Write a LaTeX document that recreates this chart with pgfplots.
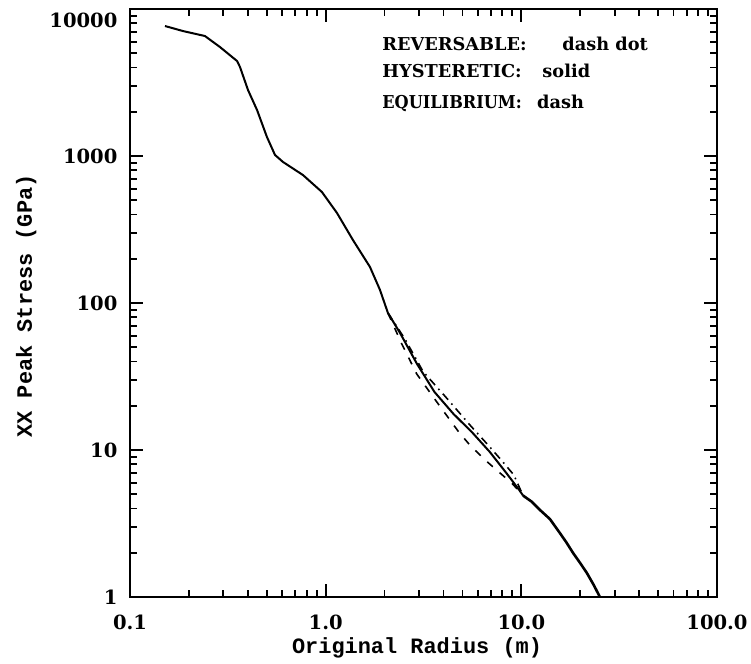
\documentclass[border=0pt]{standalone}
\usepackage{fontspec}
\usepackage{graphicx}
\setmainfont{DejaVu Serif}
\newfontfamily\labelfont{Liberation Mono}
\usepackage{pgfplots}
\pgfplotsset{compat=1.18}
\begin{document}
\begin{tikzpicture}
\path[use as bounding box] (-65bp,-33.5bp) rectangle (310.5bp,298.5bp);
\begin{axis}[
  at={(0,0)}, anchor=south west,
  scale only axis, width=293.5bp, height=294bp,
  xmode=log, ymode=log,
  xmin=0.1, xmax=100, ymin=1, ymax=10000,
  axis line style={line width=1.2bp},
  tick style={black, line width=0.9bp},
  major tick length=6.5bp, minor tick length=3.5bp,
  tick align=inside, xtick pos=both, ytick pos=both,
  xticklabel pos=bottom, yticklabel pos=left,
  xtick={0.1,1,10,100}, xticklabels={0.1,1.0,10.0,100.0},
  minor xtick={0.2,0.3,0.4,0.5,0.6,0.7,0.8,0.9,2,3,4,5,6,7,8,9,20,30,40,50,60,70,80,90},
  ytick={1,10,100,1000,10000},
  yticklabels={1,10,100,1000,\raisebox{-5.5bp}[\height][\depth]{10000}},
  minor ytick={2,3,4,5,6,7,8,9,20,30,40,50,60,70,80,90,200,300,400,500,600,700,800,900,2000,3000,4000,5000,6000,7000,8000,9000},
  ticklabel style={font=\fontsize{9.8}{11}\selectfont\bfseries},
  xticklabel style={yshift=-5.3bp},
  yticklabel style={xshift=-2.8bp},
  xlabel={Original Radius (m)}, ylabel={XX Peak Stress (GPa)},
  label style={font=\labelfont\bfseries\fontsize{11}{12}\selectfont},
  xlabel style={at={(axis description cs:0.489,-0.0867)}, anchor=center},
  ylabel style={at={(axis description cs:-0.177,0.495)}, anchor=center},
]
% HYSTERETIC: solid
\addplot[black, line width=1bp, line join=round] coordinates {
(0.151,7660) (0.1866,7080) (0.2415,6550) (0.2884,5510) (0.3524,4430) (0.365,4030)
(0.401,2810) (0.446,2055) (0.501,1347) (0.551,1016) (0.605,911) (0.766,742)
(0.957,569) (1.142,410) (1.379,268) (1.684,176) (1.894,123) (2.081,85.5)
(2.40,62.5) (2.93,38.5) (3.6,24.8) (4.5,17.6) (5.6,13.2) (6.9,9.7) (8.4,6.95)
(9.8,5.3) (10.2,4.9)
};
\addplot[black, line width=1.3bp, line join=round] coordinates {
(10.2,4.9) (11.3,4.45) (12.45,3.91) (14.0,3.39) (15.75,2.72) (17.0,2.35) (18.4,1.99)
(20.0,1.70) (21.6,1.46) (23.5,1.20) (25.2,1.0)
};
% REVERSABLE: dash dot
\addplot[black, line width=0.8bp, dash pattern=on 4bp off 2.5bp on 0.8bp off 2.5bp] coordinates {
(2.081,85.5) (2.54,57) (3.15,34.1) (4.10,23.0) (5.51,14.6) (6.69,10.98) (7.84,8.64)
(9.16,6.76) (10.2,4.9)
};
% EQUILIBRIUM: dash
\addplot[black, line width=0.8bp, dash pattern=on 3.7bp off 4.5bp] coordinates {
(2.081,85.5) (2.44,53.2) (2.92,32.9) (3.72,21.0) (4.82,13.1) (5.51,10.65) (6.59,8.46)
(9.03,5.87) (10.2,4.9)
};
\tikzset{leg/.style={anchor=base west, inner sep=0pt, font=\fontsize{8.9}{10}\selectfont\bfseries}}
\node[leg] at (rel axis cs:0.4293,0.930) {REVERSABLE:};
\node[leg] at (rel axis cs:0.736,0.930) {dash dot};
\node[leg] at (rel axis cs:0.4293,0.8827) {HYSTERETIC:};
\node[leg] at (rel axis cs:0.702,0.8827) {solid};
\node[leg] at (rel axis cs:0.4293,0.8316) {\scalebox{0.91}[1]{EQUILIBRIUM:}};
\node[leg] at (rel axis cs:0.693,0.8316) {dash};
\end{axis}
\end{tikzpicture}
\end{document}
